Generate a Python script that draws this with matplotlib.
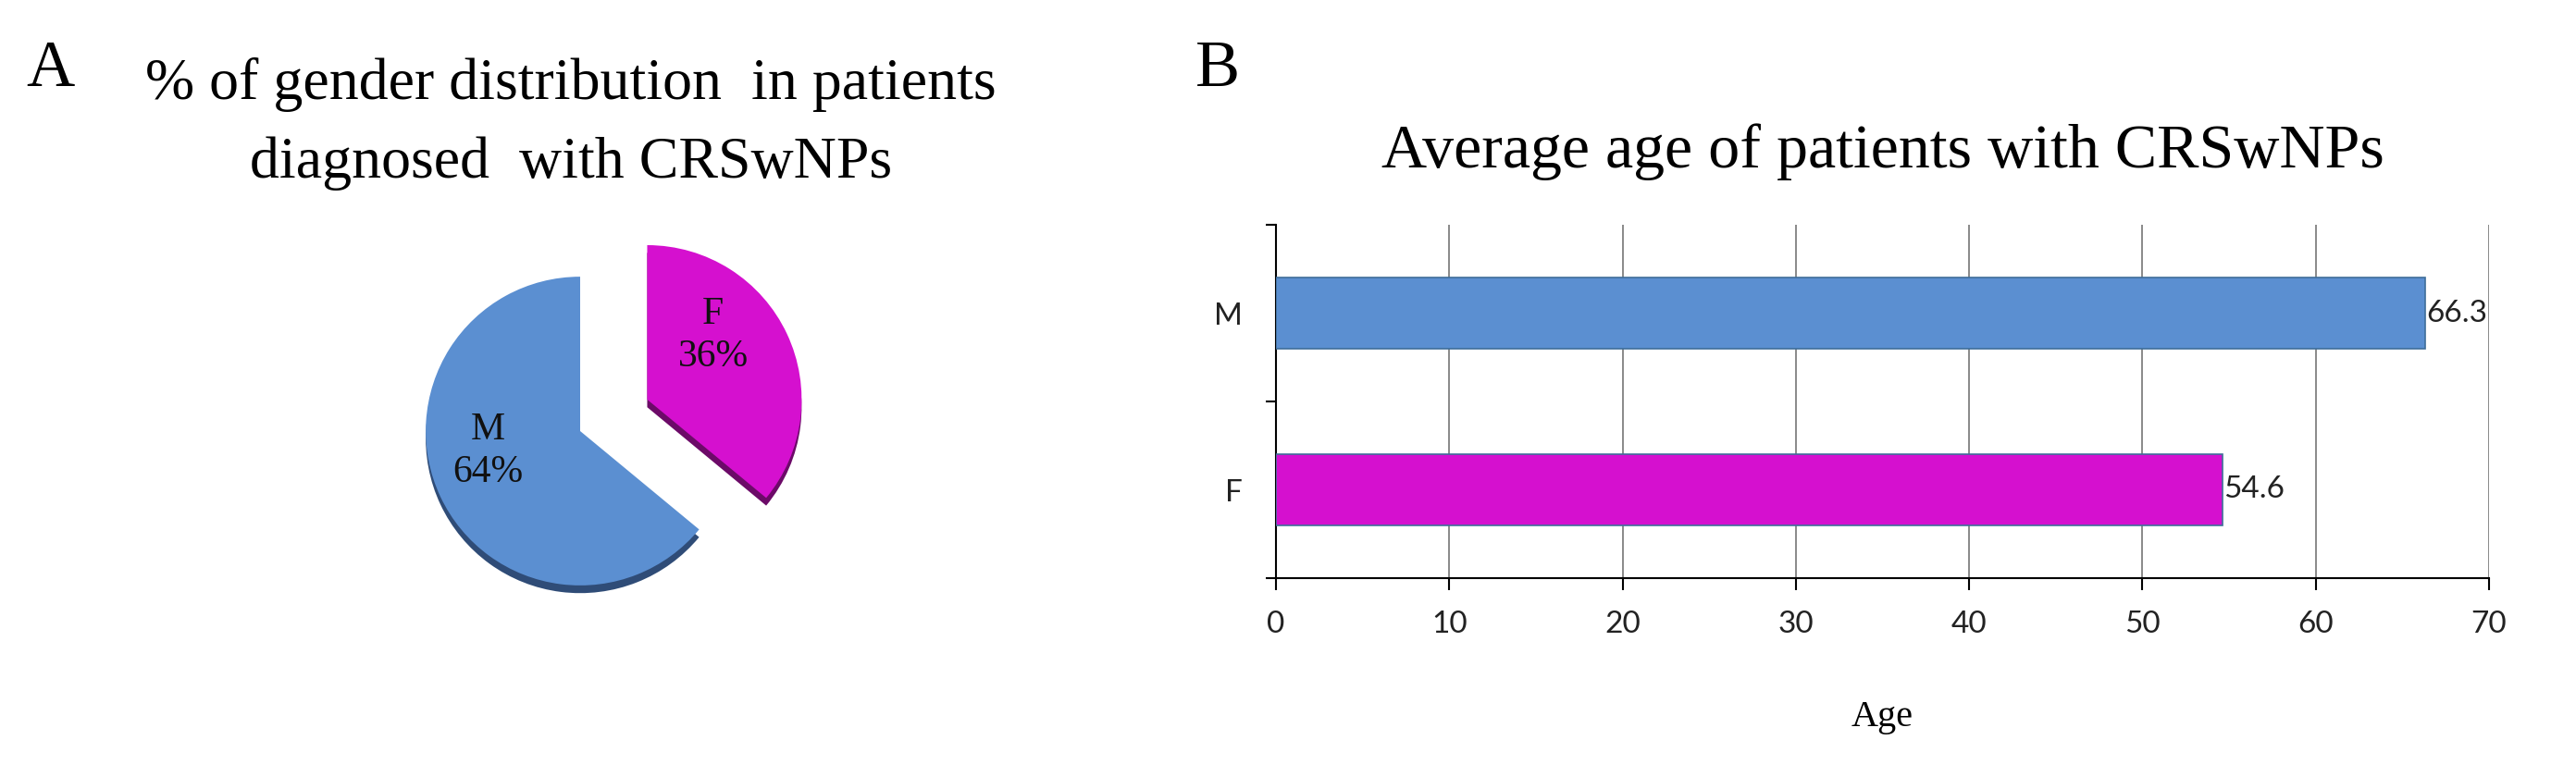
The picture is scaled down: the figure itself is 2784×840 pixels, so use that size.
import numpy as np
import matplotlib
matplotlib.use("Agg")
import matplotlib.pyplot as plt

# data
pie_labels = ["F", "M"]
pie_pct = [36, 64]
bar_labels = ["F", "M"]
mean_age = [54.6, 66.3]
age_ticks = [0, 10, 20, 30, 40, 50, 60, 70]

col_f = "#D510CF"
col_m = "#5B8FD1"
shadow_f = "#6C0A68"
shadow_m = "#2F4C77"

serif = "Liberation Serif"
sans = "Lato"

W, H = 2784, 840
fig = plt.figure(figsize=(W / 100, H / 100), dpi=100)

# ---- panel A: pie ----
cx, cy, half = 627, 466, 267
ax1 = fig.add_axes([(cx - half) / W, (H - cy - half) / H, 2 * half / W, 2 * half / H])
explode = [0.48, 0]
# dark copy underneath, shifted down a little -> 3d-ish rim
ax1.pie(pie_pct, explode=explode, startangle=90, counterclock=False,
        colors=[shadow_f, shadow_m], center=(0, -0.05),
        wedgeprops=dict(linewidth=0))
wedges, _, pct_txt = ax1.pie(pie_pct, explode=explode, startangle=90, counterclock=False,
                             colors=[col_f, col_m], autopct="%d%%", pctdistance=0.6,
                             wedgeprops=dict(linewidth=0),
                             textprops=dict(fontsize=30, family=serif, color="#111111"))
label_pos = {"F": (0.86, 0.62), "M": (-0.60, -0.13)}
for t, lab in zip(pct_txt, pie_labels):
    t.set_text(lab + "\n" + t.get_text())
    t.set_position(label_pos[lab])
    t.set_linespacing(1.25)
ax1.set_xlim(-1.6, 1.6)
ax1.set_ylim(-1.6, 1.6)
ax1.set_aspect("equal")
ax1.axis("off")

fig.text(617 / W, 1 - 107 / H, "% of gender distribution  in patients", ha="center",
         va="baseline", fontsize=46, family=serif)
fig.text(617 / W, 1 - 192 / H, "diagnosed  with CRSwNPs", ha="center",
         va="baseline", fontsize=46, family=serif)
fig.text(28 / W, 1 - 93 / H, "A", va="baseline", fontsize=52, family=serif)
fig.text(1292 / W, 1 - 93 / H, "B", va="baseline", fontsize=52, family=serif)

# ---- panel B: horizontal bars ----
x0, x1, ytop, ybot = 1379, 2690, 243, 625
ax2 = fig.add_axes([x0 / W, (H - ybot) / H, (x1 - x0) / W, (ybot - ytop) / H])
ypos = np.arange(len(bar_labels))
bars = ax2.barh(ypos, mean_age, height=0.4, color=[col_f, col_m],
                edgecolor="#3F6E9A", linewidth=1.2, zorder=3)
ax2.bar_label(bars, fmt="%.1f", padding=1, fontsize=24, family=sans, color="#222222")

ax2.set_xlim(age_ticks[0], age_ticks[-1])
ax2.set_ylim(-0.5, len(bar_labels) - 0.5)
ax2.set_xticks(age_ticks)
ax2.set_xticklabels([str(v) for v in age_ticks], fontsize=24, family=sans, color="#222222")
ax2.set_yticks(np.arange(len(bar_labels) + 1) - 0.5)
ax2.set_yticklabels([])
ax2.set_yticks(ypos, minor=True)
ax2.set_yticklabels(bar_labels, minor=True, fontsize=24, family=sans, color="#222222")
ax2.tick_params(axis="y", which="major", direction="out", length=8, width=1.5)
ax2.tick_params(axis="y", which="minor", length=0, pad=26)
ax2.tick_params(axis="x", direction="out", length=9.5, width=1.5, pad=16)
ax2.grid(axis="x", color="#808080", linewidth=1.3, zorder=0)
for s in ["top", "right"]:
    ax2.spines[s].set_visible(False)
for s in ["left", "bottom"]:
    ax2.spines[s].set_linewidth(1.5)
ax2.set_title("Average age of patients with CRSwNPs", fontsize=49, family=serif, pad=45)
ax2.set_xlabel("Age", fontsize=29, family=serif, labelpad=48)

fig.savefig("out.png", dpi=100, facecolor="white")
